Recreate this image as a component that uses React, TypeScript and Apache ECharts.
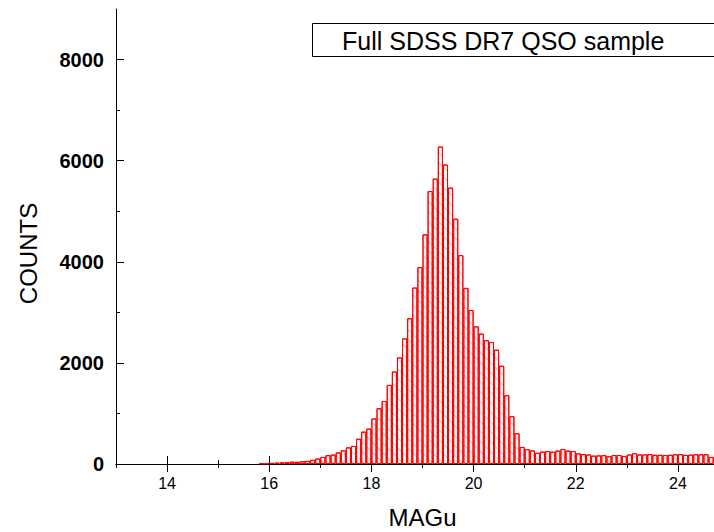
import React, { useEffect, useRef } from "react";
import * as echarts from "echarts";

// Histogram of u-band magnitude (MAGu), bins of 0.1 mag starting at 15.8
const binStart = 15.8;
const binWidth = 0.1;
const counts = [
  15, 15, 22, 28, 32, 38, 45, 43, 55, 62, 82, 108, // 15.8 - 16.9
  140, 175, 185, 228, 270, 328, 357, 500, 640, 700, // 17.0 - 17.9
  899, 1104, 1245, 1565, 1828, 2108, 2485, 2882, 3490, 3893, // 18.0 - 18.9
  4541, 5400, 5645, 6280, 5923, 5467, 4852, 4131, 3484, 3047, // 19.0 - 19.9
  2723, 2578, 2446, 2413, 2261, 1943, 1360, 945, 608, 337, // 20.0 - 20.9
  294, 268, 222, 245, 255, 242, 265, 298, 265, 255, // 21.0 - 21.9
  211, 195, 188, 165, 170, 175, 152, 178, 178, 160, // 22.0 - 22.9
  188, 212, 188, 190, 195, 182, 182, 178, 182, 192, // 23.0 - 23.9
  195, 180, 185, 192, 192, 192, 140, 140, // 24.0 - 24.7
];

const xMajorTicks = [14, 16, 18, 20, 22, 24];
const xMinorTicks = [13, 15, 17, 19, 21, 23, 25];
const yMajorTicks = [0, 2000, 4000, 6000, 8000];
const yMinorTicks = [1000, 3000, 5000, 7000];
const xRange = [13, 25];
const yRange = [0, 9000];
const legendLabel = "Full SDSS DR7 QSO sample";
const xTitle = "MAGu";
const yTitle = "COUNTS";

export default function App() {
  const ref = useRef<HTMLDivElement>(null);
  useEffect(() => {
    const chart = echarts.init(ref.current!, null, { renderer: "svg" });
    const font = '"Liberation Sans", Arial, sans-serif';
    const gridLeft = 116;
    const gridWidth = 613;
    const barW = (gridWidth / (xRange[1] - xRange[0])) * binWidth;
    const data = counts.map((c, i) => [
      +(binStart + (i + 0.5) * binWidth).toFixed(2),
      c,
    ]);
    const black = { color: "#000", width: 1 };
    const xAx = (pos: string, major: boolean, extra: any = {}) => ({
      type: "value",
      min: xRange[0],
      max: xRange[1],
      position: pos,
      axisLine: { show: major, lineStyle: black },
      splitLine: { show: false },
      axisTick: {
        inside: true,
        length: major ? 8 : 4,
        customValues: major ? xMajorTicks : xMinorTicks,
        lineStyle: black,
      },
      axisLabel: { show: false },
      ...extra,
    });
    const yAx = (pos: string, major: boolean, extra: any = {}) => ({
      type: "value",
      min: yRange[0],
      max: yRange[1],
      position: pos,
      axisLine: { show: major, lineStyle: black },
      splitLine: { show: false },
      axisTick: {
        inside: true,
        length: major ? 8 : 4,
        customValues: major ? yMajorTicks : yMinorTicks,
        lineStyle: black,
      },
      axisLabel: { show: false },
      ...extra,
    });
    chart.setOption({
      animation: false,
      backgroundColor: "#fff",
      grid: {
        left: gridLeft,
        top: 9,
        width: gridWidth,
        height: 455,
        show: false,
        containLabel: false,
        outerBoundsMode: "none",
      },
      xAxis: [
        xAx("bottom", true, {
          axisLabel: {
            show: true,
            customValues: xMajorTicks,
            margin: 11,
            fontSize: 16,
            color: "#000",
            fontFamily: font,
          },
          name: xTitle,
          nameLocation: "middle",
          nameGap: 41,
          nameTextStyle: { fontSize: 24, color: "#000", fontFamily: font },
        }),
        xAx("bottom", false),
        xAx("top", true),
        xAx("top", false),
      ],
      yAxis: [
        yAx("left", true, {
          axisLabel: {
            show: true,
            customValues: yMajorTicks,
            formatter: (v: number) => String(v),
            margin: 12,
            fontSize: 20,
            fontWeight: "bold",
            color: "#000",
            fontFamily: font,
          },
          name: yTitle,
          nameLocation: "middle",
          nameRotate: 90,
          nameGap: 76,
          nameTextStyle: {
            fontSize: 24,
            color: "#000",
            fontFamily: font,
            padding: [0, 34, 0, 0],
          },
        }),
        yAx("left", false),
        yAx("right", true),
        yAx("right", false),
      ],
      series: [
        {
          type: "bar",
          xAxisIndex: 0,
          yAxisIndex: 0,
          data,
          barWidth: barW,
          itemStyle: {
            color: "#fff",
            borderColor: "#ff0000",
            borderWidth: 1,
            decal: {
              symbol: "rect",
              symbolSize: 1,
              color: "rgba(255,60,60,0.4)",
              dashArrayX: [[1, 0]],
              dashArrayY: [1, 6],
              rotation: Math.PI / 4,
            },
          },
        },
      ],
      graphic: [
        {
          type: "rect",
          shape: { x: 312.5, y: 23.5, width: 420, height: 33 },
          style: { fill: "#fff", stroke: "#000", lineWidth: 1 },
          z: 100,
        },
        {
          type: "text",
          x: 342,
          y: 40.5,
          style: {
            text: legendLabel,
            fontSize: 25,
            fontFamily: font,
            fill: "#000",
            verticalAlign: "middle",
          },
          z: 101,
        },
      ],
    });
    return () => chart.dispose();
  }, []);
  return (
    <div
      ref={ref}
      style={{ position: "fixed", left: 0, top: 0, width: 714, height: 532 }}
    />
  );
}
